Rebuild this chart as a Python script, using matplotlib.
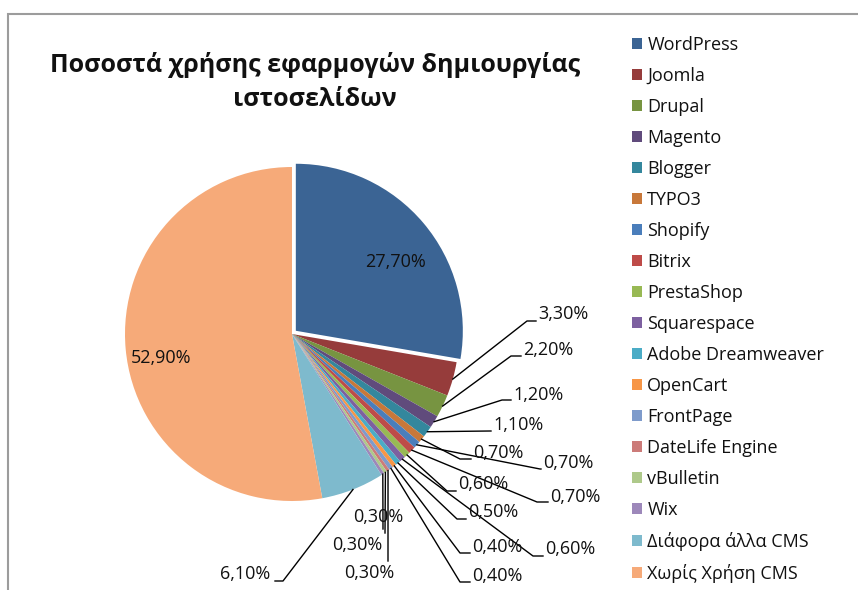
import matplotlib
matplotlib.use("Agg")
import matplotlib.pyplot as plt
import matplotlib.patches as mpatches
import numpy as np

plt.rcParams['font.family'] = ['Open Sans', 'DejaVu Sans']

names = ["WordPress", "Joomla", "Drupal", "Magento", "Blogger", "TYPO3", "Shopify",
         "Bitrix", "PrestaShop", "Squarespace", "Adobe Dreamweaver", "OpenCart",
         "FrontPage", "DateLife Engine", "vBulletin", "Wix", "Διάφορα άλλα CMS",
         "Χωρίς Χρήση CMS"]
shares = [27.7, 3.3, 2.2, 1.2, 1.1, 0.7, 0.7, 0.7, 0.6, 0.6, 0.5, 0.4, 0.4,
          0.3, 0.3, 0.3, 6.1, 52.9]
colors = ["#3B6494", "#963C3B", "#779441", "#604B7C", "#34879D", "#C8783A",
          "#4A7EBB", "#BE4B48", "#98B954", "#7D60A0", "#4BACC6", "#F79646",
          "#7E9BCB", "#CC7B79", "#AEC98A", "#9D88BA", "#7EBACD", "#F6AA79"]
title = "Ποσοστά χρήσης εφαρμογών δημιουργίας\nιστοσελίδων"

W, H = 858, 590
cx, cy, r = 292, 334, 167   # pie centre / radius in pixels (y down)

# label layout in pixels: (text x, text y, ha, elbow x, elbow y); None -> inside
label_pos = [
    None,
    (538, 314, 'left', 527, 321),
    (523, 350, 'left', 511, 356),
    (513, 395, 'left', 502, 400),
    (493, 425, 'left', 490, 431),
    (473, 453, 'left', 460, 459),
    (543, 463, 'left', 540, 469),
    (550, 497, 'left', 537, 502),
    (458, 484, 'left', 447, 491),
    (545, 549, 'left', 533, 556),
    (468, 512, 'left', 457, 519),
    (472, 547, 'left', 460, 553),
    (472, 576, 'left', 460, 582),
    (369, 573, 'center', 388, 561),
    (357, 545, 'center', 385, 533),
    (378, 517, 'center', 383, 529),
    (245, 574, 'center', 283, 581),
    None,
]


def fy(y):
    return H - y


fig = plt.figure(figsize=(W / 100, H / 100), dpi=100)
ax = fig.add_axes([0, 0, 1, 1])

explode = [5] + [0] * (len(shares) - 1)
wedges, _ = ax.pie(shares, colors=colors, startangle=90, counterclock=False,
                   center=(cx, fy(cy)), radius=r, explode=explode,
                   wedgeprops=dict(linewidth=0))
ax.set_xlim(0, W)
ax.set_ylim(0, H)
ax.set_aspect('equal')
ax.axis('off')


def fmt(v):
    return f"{v:.2f}%".replace('.', ',')


lab_fs = 13
ax.text(396, fy(262), fmt(shares[0]), ha='center', va='center', fontsize=lab_fs, color='#111111')
ax.text(161, fy(358), fmt(shares[-1]), ha='center', va='center', fontsize=lab_fs, color='#111111')

cum = np.cumsum([0] + shares[:-1])
for i, v in enumerate(shares):
    lp = label_pos[i]
    if lp is None:
        continue
    ang = np.deg2rad(360 * (cum[i] + v / 2) / 100)
    axp = cx + r * np.sin(ang)
    ayp = cy - r * np.cos(ang)
    tx, ty, ha, ex, ey = lp
    if ha == 'left':
        xs = [axp, ex, tx - 2]
        ys = [ayp, ey, ey]
    elif i == 16:
        xs = [axp, ex, tx + 30]
        ys = [ayp, ey, ey]
    else:
        xs = [axp, ex]
        ys = [ayp, ey]
    ax.plot(xs, [fy(y) for y in ys], color='black', lw=1.0)
    ax.text(tx, fy(ty), fmt(v), ha=ha, va='center', fontsize=lab_fs, color='#111111')

ax.text(315, fy(82), title, ha='center', va='center', fontsize=18, fontweight='bold',
        linespacing=1.45, color='#111111')

leg = ax.legend(wedges, names, loc='upper left', bbox_to_anchor=(632 / W, 1 - 36 / H),
                frameon=False, fontsize=13, handlelength=0.55, handleheight=0.55,
                handletextpad=0.3, labelspacing=0.72, borderpad=0, borderaxespad=0)
for t in leg.get_texts():
    t.set_color('#111111')

fig.patches.append(mpatches.Rectangle((8 / W, -0.1), 1.2, 1.1 - 14 / H, transform=fig.transFigure,
                                      fill=False, edgecolor='#9c9c9c', lw=1.5))

fig.savefig("out.png", dpi=100)
